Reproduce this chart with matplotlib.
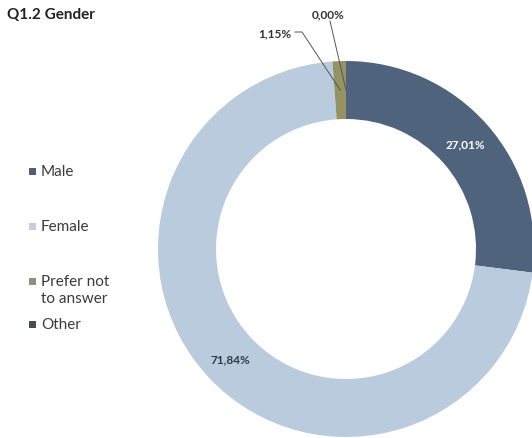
import numpy as np
import matplotlib
matplotlib.use("Agg")
import matplotlib.pyplot as plt
from matplotlib.patches import Rectangle

plt.rcParams['font.family'] = ['Lato', 'DejaVu Sans']

categories = ["Male", "Female", "Prefer not\nto answer", "Other"]
shares = [27.01, 71.84, 1.15, 0.00]
colors = ["#50637d", "#b9cbdd", "#959364", "#3e4a57"]
legend_colors = ["#4f5f74", "#c3cfdb", "#8f8f7c", "#474d55"]
label_text = ["27,01%", "71,84%", "1,15%", "0,00%"]

W, H = 532, 439
fig = plt.figure(figsize=(W / 100, H / 100), dpi=100)
ax = fig.add_axes([0, 0, 1, 1])

cx, cy = 346, H - 250
R, ring = 188, 58

wedges, _ = ax.pie(shares, colors=colors, startangle=90, counterclock=False,
                   radius=R, center=(cx, cy), frame=True,
                   wedgeprops=dict(width=ring, linewidth=0))
ax.set_xlim(0, W)
ax.set_ylim(0, H)
ax.set_aspect('equal')
ax.axis('off')

mid_r = R - ring / 2


def mid_point(w):
    a = np.deg2rad((w.theta1 + w.theta2) / 2)
    return cx + mid_r * np.cos(a), cy + mid_r * np.sin(a)


# labels inside the two large slices
x, y = mid_point(wedges[0])
ax.text(x, y, label_text[0], color="white", fontsize=8.5, fontweight="bold",
        ha="center", va="center")
x, y = mid_point(wedges[1])
ax.text(x, y, label_text[1], color="#2e3a4a", fontsize=8.5, fontweight="bold",
        ha="center", va="center")

# small slices get leader lines
x, y = mid_point(wedges[2])
ax.text(291, H - 34, label_text[2], color="#333333", fontsize=8.5, fontweight="bold",
        ha="right", va="center")
ax.plot([295, 302, x], [H - 33, H - 33, y], color="#555555", lw=0.7)

x, y = mid_point(wedges[3])
ax.text(328, H - 15, label_text[3], color="#333333", fontsize=8.5, fontweight="bold",
        ha="center", va="center")
ax.plot([330, x], [H - 22, y], color="#555555", lw=0.7)

# title
ax.text(7, H - 15, "Q1.2 Gender", fontsize=11, fontweight="bold", color="#222222",
        ha="left", va="center")

# legend
leg_y = [172, 227, 282, 325]
for name, c, ly in zip(categories, legend_colors, leg_y):
    ax.add_patch(Rectangle((29, H - ly - 3.5), 7, 7, color=c, lw=0))
    ax.text(41, H - ly + (7 if "\n" in name else 0), name, fontsize=11,
            color="#3a3a3a", ha="left",
            va="top" if "\n" in name else "center",
            linespacing=1.25)

fig.savefig("out.png", dpi=100)
